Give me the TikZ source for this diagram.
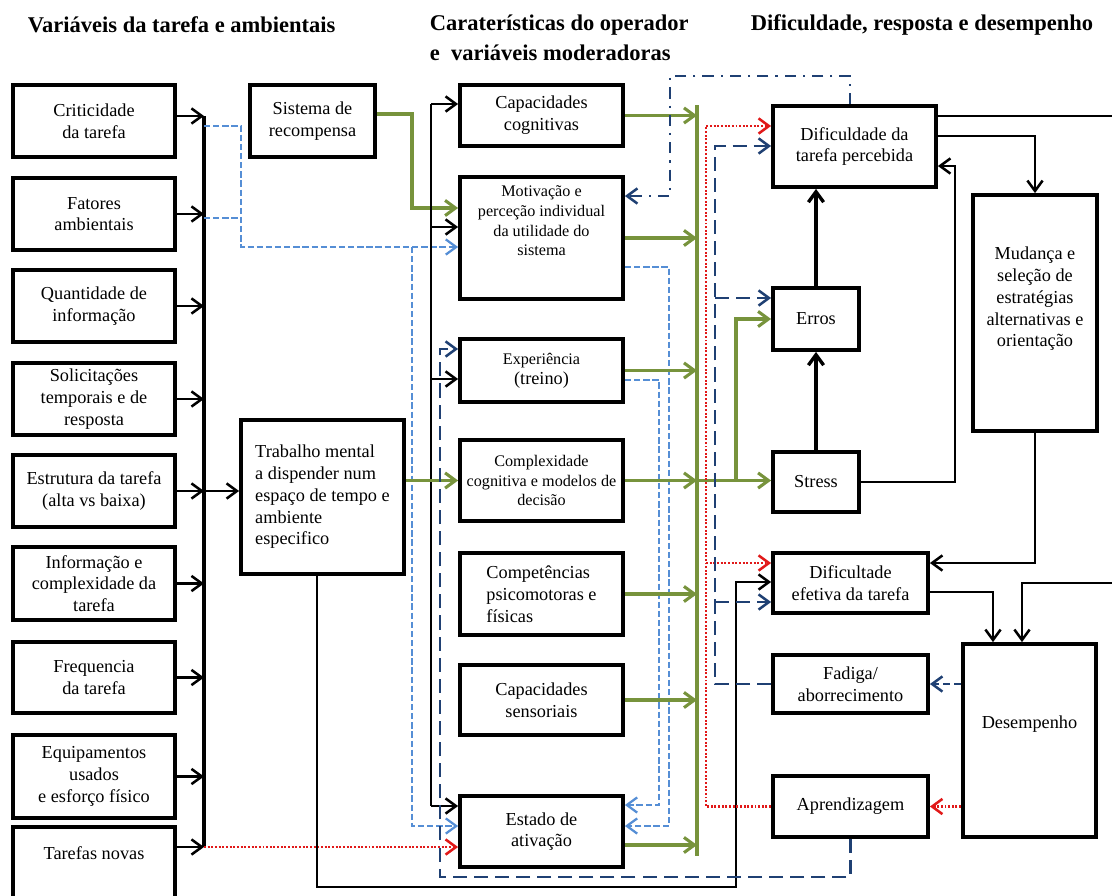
\documentclass[tikz,border=0pt]{standalone}
\usepackage{fontspec}
\setmainfont{Liberation Serif}
\usetikzlibrary{arrows.meta,calc}

\definecolor{olivegrn}{RGB}{119,147,60}
\definecolor{skyblu}{RGB}{85,142,213}
\definecolor{navyblu}{RGB}{31,64,115}
\definecolor{dotred}{RGB}{225,25,25}

\begin{document}
\begin{tikzpicture}[x=0.025cm,y=-0.025cm,
  bx/.style 2 args={draw, line width=2.7pt, minimum width=#1*0.025cm,
    minimum height=#2*0.025cm, inner sep=1pt, align=center,
    font=\fontsize{13}{15.5}\selectfont},
  smalltxt/.style={font=\fontsize{11.5}{14}\selectfont},
  hd/.style={font=\fontsize{16}{20}\selectfont\bfseries, anchor=west},
  barb/.style={-{Straight Barb[length=2.6mm,width=3.8mm]}},
  blkln/.style={barb, line width=1.8pt},
  grnln/.style={barb, olivegrn, line width=2.2pt},
  skyln/.style={barb, skyblu, line width=1.6pt, dash pattern=on 4.5pt off 2pt},
  navyln/.style={barb, navyblu, line width=1.8pt, dash pattern=on 10pt off 5pt},
  navyshort/.style={barb, navyblu, line width=1.8pt, dash pattern=on 5pt off 3pt},
  navyddln/.style={barb, navyblu, line width=1.8pt, dash pattern=on 8pt off 5pt on 1.5pt off 5pt},
  redln/.style={barb, dotred, line width=1.8pt, dash pattern=on 1.4pt off 1.2pt},
]
\useasboundingbox (0,0) rectangle (1112,895);

% headings
\node[hd] (h1) at (23,25) {Variáveis da tarefa e ambientais};
\node[hd] (h2) at (425,25) {Caraterísticas do operador};
\node[hd] (h3) at (425,53) {e~~variáveis moderadoras};
\node[hd] (h4) at (746,25) {Dificuldade, resposta e desempenho};

% task and environment variables
\node[bx={162}{72}] (crit) at (94,121) {Criticidade\\da tarefa};
\node[bx={162}{72}] (fat) at (94,214) {Fatores\\ambientais};
\node[bx={162}{72}] (quant) at (94,306) {Quantidade de\\informação};
\node[bx={162}{72}] (solic) at (94,399) {Solicitações\\temporais e de\\resposta};
\node[bx={162}{72}] (estr) at (94,491) {Estrutura da tarefa\\(alta vs baixa)};
\node[bx={162}{73}] (info) at (94,583.5) {Informação e\\complexidade da\\tarefa};
\node[bx={162}{71}] (freq) at (94,677.5) {Frequencia\\da tarefa};
\node[bx={162}{83}] (equip) at (94,776.5) {Equipamentos\\usados\\e esforço físico};
\node[bx={162}{80}, text depth=0.7cm] (novas) at (94,867) {Tarefas novas};

\node[bx={125}{72}] (sist) at (312.5,121) {Sistema de\\recompensa};
\node[bx={163}{154}, align=left] (trab) at (322.5,497)
  {Trabalho mental\\a dispender num\\espaço de tempo e\\ambiente\\especifico};

% operator characteristics
\node[bx={163}{61}] (capc) at (541.5,115.5) {Capacidades\\cognitivas};
\node[bx={163}{122}, smalltxt, text depth=0.85cm] (motiv) at (541.5,238)
  {Motivação e\\perceção individual\\da utilidade do\\sistema};
\node[bx={163}{63}, smalltxt] (exper) at (541.5,370.5) {Experiência\\{\fontsize{13}{15}\selectfont(treino)}};
\node[bx={163}{81}, smalltxt] (compl) at (541.5,480.5)
  {Complexidade\\cognitiva e modelos de\\decisão};
\node[bx={163}{82}, align=left] (compt) at (541.5,594)
  {Competências\\psicomotoras e\\físicas};
\node[bx={163}{70}] (capsens) at (541.5,700) {Capacidades\\sensoriais};
\node[bx={163}{71}] (estado) at (541.5,831.5) {Estado de\\ativação};

% difficulty, response, performance
\node[bx={163}{81}] (difp) at (854.5,146.5) {Dificuldade da\\tarefa percebida};
\node[bx={86}{62}] (erros) at (816,319) {Erros};
\node[bx={86}{60}] (stress) at (816,482) {Stress};
\node[bx={124}{236}, text depth=0.8cm] (mud) at (1035,313)
  {Mudança e\\seleção de\\estratégias\\alternativas e\\orientação};
\node[bx={155}{60}] (difef) at (850.5,583) {Dificultade\\efetiva da tarefa};
\node[bx={155}{58}] (fad) at (850.5,684) {Fadiga/\\aborrecimento};
\node[bx={155}{61}] (apr) at (850.5,806.5) {Aprendizagem};
\node[bx={133}{193}, text depth=0.9cm] (desemp) at (1029.5,740.5) {Desempenho};

% left bus
\coordinate (bustop) at (204,116);
\coordinate (busbot) at (204,847);
\draw[line width=2.6pt] (bustop) -- (busbot);
\draw[blkln] (crit.east |- bustop) -- (bustop);
\foreach \b in {fat,quant,solic,estr,info,freq,equip}
  \draw[blkln] (\b.east) -- (\b.east -| bustop);
\draw[blkln] (novas.east |- busbot) -- (busbot);
\draw[blkln] (estr.east -| bustop) -- (trab.west |- estr.east);

% reward system
\coordinate (gbend) at (412,208);
\draw[grnln] ($(sist.east)+(0,-7)$) -| (gbend) -- (gbend -| motiv.west);

% light blue dashed
\coordinate (skya) at (204,126);
\coordinate (skyb) at (204,218);
\coordinate (skyc) at (241,126);
\coordinate (skyj) at (241,247);
\coordinate (skyd) at (412,247);
\coordinate (skye) at (412,826);
\draw[skyln] (skya) -- (skyc) -- (skyj) -- (skyj -| motiv.west);
\draw[skyln, -] (skyb) -- (skyb -| skyc);
\draw[skyln] (skyd) -- (skye) -- (skye -| estado.west);
\coordinate (sk1) at (669,267);
\coordinate (sk2) at (669,826);
\coordinate (sk3) at (659,380);
\coordinate (sk4) at (659,805);
\draw[skyln] (motiv.east |- sk1) -- (sk1) -- (sk2) -- (sk2 -| estado.east);
\draw[skyln] (exper.east |- sk3) -- (sk3) -- (sk4) -- (sk4 -| estado.east);

% black bus to operator boxes
\coordinate (b2top) at (431,104);
\coordinate (b2m) at (431,227);
\coordinate (b2e) at (431,379);
\coordinate (b2bot) at (431,806);
\draw[line width=1.8pt] (b2top) -- (b2bot);
\draw[blkln] (b2top) -- (b2top -| capc.west);
\draw[blkln] (b2m) -- (b2m -| motiv.west);
\draw[blkln] (b2e) -- (b2e -| exper.west);
\draw[blkln] (b2bot) -- (b2bot -| estado.west);

% new tasks
\draw[redln] (busbot) -- (busbot -| estado.west);

% mental work
\draw[grnln] (trab.east |- compl.west) -- (compl.west);
\coordinate (tb1) at (317,887);
\coordinate (tb2) at (736,887);
\coordinate (tb3) at (736,582);
\draw[blkln] (tb1 |- trab.south) -- (tb1) -- (tb2) -- (tb3) -- (tb3 -| difef.west);

% green bus
\coordinate (gtop) at (697,105);
\coordinate (gbot) at (697,856);
\draw[olivegrn, line width=2.4pt] (gtop) -- (gbot);
\foreach \b in {capc,motiv,exper,compl,compt,capsens}
  \draw[grnln] (\b.east) -- (\b.east -| gtop);
\draw[grnln] ($(estado.east)+(0,13.5)$) coordinate (ge) -- (ge -| gtop);
\draw[grnln] (compl.east -| gtop) -- (stress.west |- compl.east);
\coordinate (gbr) at (736,481);
\draw[grnln] (gbr) |- (erros.west);

% learning feedback (navy dashed)
\coordinate (nv2) at (440,877);
\coordinate (nv3) at (440,349);
\draw[navyln] (apr.south) |- (nv2) -- (nv3) -- (nv3 -| exper.west);

% dash-dot to motivation
\coordinate (dd1) at (850,76);
\coordinate (dd2) at (670,76);
\coordinate (dd3) at (670,196);
\draw[navyddln] (difp.north -| dd1) -- (dd1) -- (dd2) -- (dd3) -- (dd3 -| motiv.east);

% learning (red dotted)
\coordinate (rtop) at (706,126);
\coordinate (rmid) at (706,563);
\draw[redln] (apr.west) -| (rtop) -- (rtop -| difp.west);
\draw[redln] (rmid) -- (rmid -| difef.west);
\draw[redln] (desemp.west |- apr.east) -- (apr.east);

% fatigue (navy dashed)
\coordinate (ntop) at (715,146);
\coordinate (nb1) at (715,298);
\coordinate (nb2) at (715,602);
\draw[navyshort] (desemp.west |- fad.east) -- (fad.east);
\draw[navyln] (fad.west) -| (ntop) -- (ntop -| difp.west);
\draw[navyln] (nb1) -- (nb1 -| erros.west);
\draw[navyln] (nb2) -- (nb2 -| difef.west);

% stress, errors, perceived difficulty
\draw[blkln, line width=2.4pt] (stress.north) -- (erros.south);
\draw[blkln, line width=2.4pt] (erros.north) -- (erros.north |- difp.south);
\coordinate (sr) at (955,166);
\draw[blkln] (stress.east) -| (sr) -- (sr -| difp.east);
\draw[blkln] ($(difp.east)+(0,-10.5)$) -| (mud.north);
\coordinate (edge1) at (1125,116);
\coordinate (edge2) at (1125,583);
\coordinate (dt) at (1022,583);
\draw[blkln] ($(difp.east)+(0,-30.5)$) -- (edge1) -- (edge2) -- (dt) -- (dt |- desemp.north);

% strategies and effective difficulty
\coordinate (mb) at (1035,563);
\draw[blkln] (mud.south) -- (mb) -- (mb -| difef.east);
\coordinate (de1) at (993,592);
\draw[blkln] (difef.east |- de1) -- (de1) -- (de1 |- desemp.north);
\end{tikzpicture}
\end{document}
